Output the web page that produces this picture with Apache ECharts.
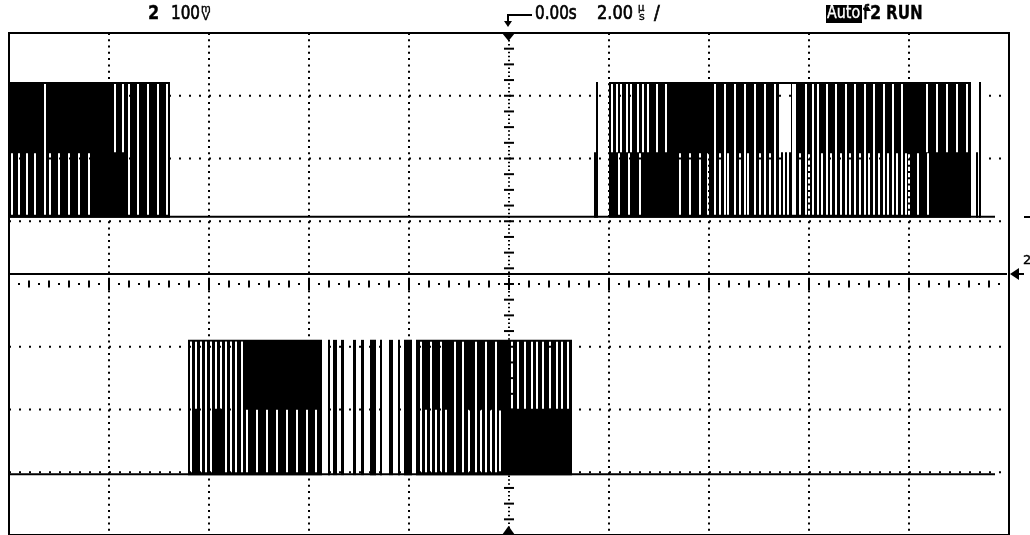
<!DOCTYPE html>
<html><head><meta charset="utf-8">
<script src="https://cdn.jsdelivr.net/npm/echarts@6/dist/echarts.min.js"></script>
<style>html,body{margin:0;padding:0;background:#fff}#c{width:1030px;height:535px}</style>
</head><body><div id="c"></div>
<script>
// Oscilloscope capture: channel 2, 100 mV/div, 2.00 us/div. Time in ns, voltage in mV.
const xRange = [-10000, 10000];
const yRange = [-400, 400];

// Upper trace levels: low, mid, high (mV)
const upperLevels = [107, 210, 322];
const upperSpan = [-10000, 9720];
const upperBlocks = [[-10000, -6780], [2000, 9240]];
const upperGapsFull = [-9280, -7600, -7420, -7220, -7020, -6840,
  4120, 4320, 4520, 4720, 4920, 5120, 5320, 5420, 5500, 5580, 5680,
  5720, 5940, 6080, 6180, 6360, 6540, 6740, 6920, 7120, 7300, 7500, 7680, 7860];
const upperGapsTop = [-7880, -7720,
  2060, 2160, 2240, 2360, 2440, 2580, 2680, 2780, 2960, 3140,
  5460, 5540, 5620, 8360, 8560, 8760, 8960, 9160];
const upperGapsBottom = [-9940, -9800, -9640, -9480, -9180, -9000, -8800, -8600, -8400,
  2200, 2400, 2620, 3420, 3620, 3820, 3980,
  4220, 4380, 4620, 4780, 5020, 5220,
  5820, 6000, 6260, 6440, 6640, 6820, 7020, 7200, 7400, 7580, 7760, 7940,
  8000, 8180, 8380];
const upperSpikes = [[1720, 1], [1760, 2], [9360, 1], [9420, 2]];

// Lower trace levels
const lowerLevels = [-303, -199, -89];
const lowerSpan = [-10000, 9720];
const lowerBlocks = [[-6420, -3740], [-3620, -3580], [-3520, -3440], [-3360, -3300],
  [-3120, -3060], [-2960, -2900], [-2780, -2660], [-2580, -2540], [-2400, -2320],
  [-2220, -2180], [-2100, -1940], [-1860, 1260]];
const lowerGapsFull = [-6360, -6160, -6060, -5960, -5660, -5560, -5460, -5340,
  -1760, -1560, -1360, -1080, -920, -660, -460, -260];
const lowerGapsTop = [-6360, -6260, -6160, -6060, -5960, -5860, -5760, -5660, -5560, -5460, -5340,
  60, 180, 320, 460, 560, 680, 820, 960, 1060, 1180];
const lowerGapsBottom = [-5240, -5040, -4840, -4640, -4440, -4240, -4040, -3860,
  -1660, -1460, -1260, -800, -560, -360, -180];
const lowerSpikes = [];

// Flat trace in the middle
const middleLevel = 16;
const middleSpan = [-10000, 9960];

function baseline(levels0, span) {
  return { type: 'line', z: 1, silent: true, symbol: 'none', animation: false,
    data: [[span[0], levels0], [span[1], levels0]],
    lineStyle: { color: '#000', width: 2 } };
}
function blocks(levels, data) {
  return { type: 'custom', z: 2, silent: true, data: data,
    renderItem(p, api) {
      const a = api.coord([api.value(0), levels[2]]);
      const b = api.coord([api.value(1), levels[0]]);
      return { type: 'rect', shape: { x: a[0], y: a[1], width: Math.max(b[0] - a[0], 2), height: b[1] - a[1] + 1 },
        style: { fill: '#000' } };
    } };
}
function gaps(levels, ts, hiIdx, loIdx, insTop, insBot) {
  return { type: 'custom', z: 3, silent: true, data: ts.map(t => [t]),
    renderItem(p, api) {
      const t = api.value(0);
      const a = api.coord([t, levels[hiIdx]]);
      const b = api.coord([t, levels[loIdx]]);
      return { type: 'rect', shape: { x: a[0] - 1, y: a[1] + insTop, width: 2, height: b[1] - a[1] - insTop - insBot },
        style: { fill: '#fff' } };
    } };
}
function spikes(levels, data) {
  return { type: 'custom', z: 4, silent: true, data: data,
    renderItem(p, api) {
      const t = api.value(0);
      const a = api.coord([t, levels[api.value(1)]]);
      const b = api.coord([t, levels[0]]);
      return { type: 'rect', shape: { x: a[0] - 1, y: a[1], width: 2, height: b[1] - a[1] + 1 }, style: { fill: '#000' } };
    } };
}
function trace(levels, span, bl, gf, gt, gb, sp) {
  return [baseline(levels[0], span), blocks(levels, bl),
    gaps(levels, gf, 2, 0, 2, 2), gaps(levels, gt, 2, 1, 2, 0), gaps(levels, gb, 1, 0, 1, 2),
    spikes(levels, sp)];
}

const graticule = {
  type: 'custom', z: 10, silent: true, data: [[0]],
  renderItem(p, api) {
    const ch = [];
    const dot = (x, y, w, h) => ch.push({ type: 'rect', shape: { x: x - w / 2, y: y - h / 2, width: w, height: h }, style: { fill: '#000' } });
    const top = api.coord([0, yRange[1]])[1], bot = api.coord([0, yRange[0]])[1];
    const left = api.coord([xRange[0], 0])[0], right = api.coord([xRange[1], 0])[0];
    for (let t = -8000; t <= 8000; t += 2000) {
      if (t === 0) continue;
      const x = api.coord([t, 0])[0];
      ch.push({ type: 'line', shape: { x1: x, y1: top, x2: x, y2: bot },
        style: { stroke: '#000', lineWidth: 2, lineDash: [2, (bot - top) / 80 - 2] } });
    }
    for (let v = -300; v <= 300; v += 100) {
      if (v === 0) continue;
      const y = api.coord([0, v])[1];
      ch.push({ type: 'line', shape: { x1: left, y1: y, x2: right, y2: y },
        style: { stroke: '#000', lineWidth: 2, lineDash: [2, (right - left) / 100 - 2] } });
    }
    const y0 = api.coord([0, 0])[1];
    for (let t = -10000; t <= 10000; t += 400) {
      const x = api.coord([t, 0])[0];
      const major = (t % 2000 === 0);
      dot(x, y0, 2, major ? 12 : 7);
      if (t < 10000) dot(api.coord([t + 200, 0])[0], y0, 2, 2);
    }
    const x0 = api.coord([0, 0])[0];
    for (let v = -400; v <= 400; v += 6.25) {
      const y = api.coord([0, v])[1];
      const k = Math.round((v + 400) / 6.25);
      if (k % 4 === 0) dot(x0, y, 10, 2); else dot(x0, y, 2, 1.5);
    }
    return { type: 'group', children: ch };
  }
};

const chart = echarts.init(document.getElementById('c'), null, { renderer: 'canvas' });
const font = "'DejaVu Sans'";
const txt = (x, y, s, f, sx, fill, lw) => ({ type: 'text', x: x, y: y, scaleX: sx,
  style: { text: s, font: f, fill: fill || '#000', stroke: fill || '#000', lineWidth: lw == null ? 0.7 : lw } });
chart.setOption({
  animation: false,
  backgroundColor: '#fff',
  grid: { left: 9, right: 21, top: 33, bottom: 0, show: true, borderColor: '#000', borderWidth: 2, backgroundColor: '#fff' },
  xAxis: { type: 'value', min: xRange[0], max: xRange[1], interval: 2000, show: false },
  yAxis: { type: 'value', min: yRange[0], max: yRange[1], interval: 100, show: false },
  series: [
    baseline(middleLevel, middleSpan),
    ...trace(upperLevels, upperSpan, upperBlocks, upperGapsFull, upperGapsTop, upperGapsBottom, upperSpikes),
    ...trace(lowerLevels, lowerSpan, lowerBlocks, lowerGapsFull, lowerGapsTop, lowerGapsBottom, lowerSpikes),
    graticule
  ],
  graphic: [
    txt(148, 5, '2', 'bold 19px ' + font, 0.85, null, 0.3),
    txt(171, 5, '100', '19px ' + font, 0.8),
    txt(201, 4, 'm', '10px ' + font, 1, null, 0.4),
    txt(202, 12, 'V', '11px ' + font, 1, null, 0.4),
    { type: 'polyline', shape: { points: [[532, 15], [508, 15], [508, 22]] }, style: { stroke: '#000', lineWidth: 2, fill: null } },
    { type: 'polygon', shape: { points: [[504, 21], [512, 21], [508, 27]] }, style: { fill: '#000' } },
    txt(535, 5, '0.00s', '19px ' + font, 0.8),
    txt(597, 5, '2.00', '19px ' + font, 0.85),
    txt(638, 3, 'µ', '10px ' + font, 1, null, 0.4),
    txt(639, 12, 's', '11px ' + font, 1, null, 0.4),
    txt(654, 5, '/', '19px ' + font, 0.9),
    { type: 'rect', shape: { x: 826, y: 5, width: 36, height: 18 }, style: { fill: '#000' } },
    txt(827, 5, 'Auto', '17px ' + font, 0.84, '#fff', 0.4),
    txt(863, 5, 'f', '19px ' + font, 0.85),
    { type: 'polygon', shape: { points: [[864, 11], [871, 11], [867.5, 6]] }, style: { fill: '#000' } },
    txt(870, 5, '2', 'bold 19px ' + font, 0.85, null, 0.3),
    txt(886, 5, 'RUN', 'bold 19px ' + font, 0.8, null, 0.3),
    { type: 'polygon', shape: { points: [[502, 33], [515, 33], [508.5, 41]] }, style: { fill: '#000' } },
    { type: 'polygon', shape: { points: [[502, 535], [515, 535], [508.5, 526]] }, style: { fill: '#000' } },
    { type: 'polygon', shape: { points: [[1010, 274], [1019, 268], [1019, 280]] }, style: { fill: '#000' } },
    { type: 'line', shape: { x1: 1019, y1: 274, x2: 1024, y2: 274 }, style: { stroke: '#000', lineWidth: 2 } },
    txt(1023, 254, '2', '13px ' + font, 1, null, 0.4),
    { type: 'line', shape: { x1: 1024, y1: 217, x2: 1030, y2: 217 }, style: { stroke: '#000', lineWidth: 2 } }
  ]
});
</script></body></html>
